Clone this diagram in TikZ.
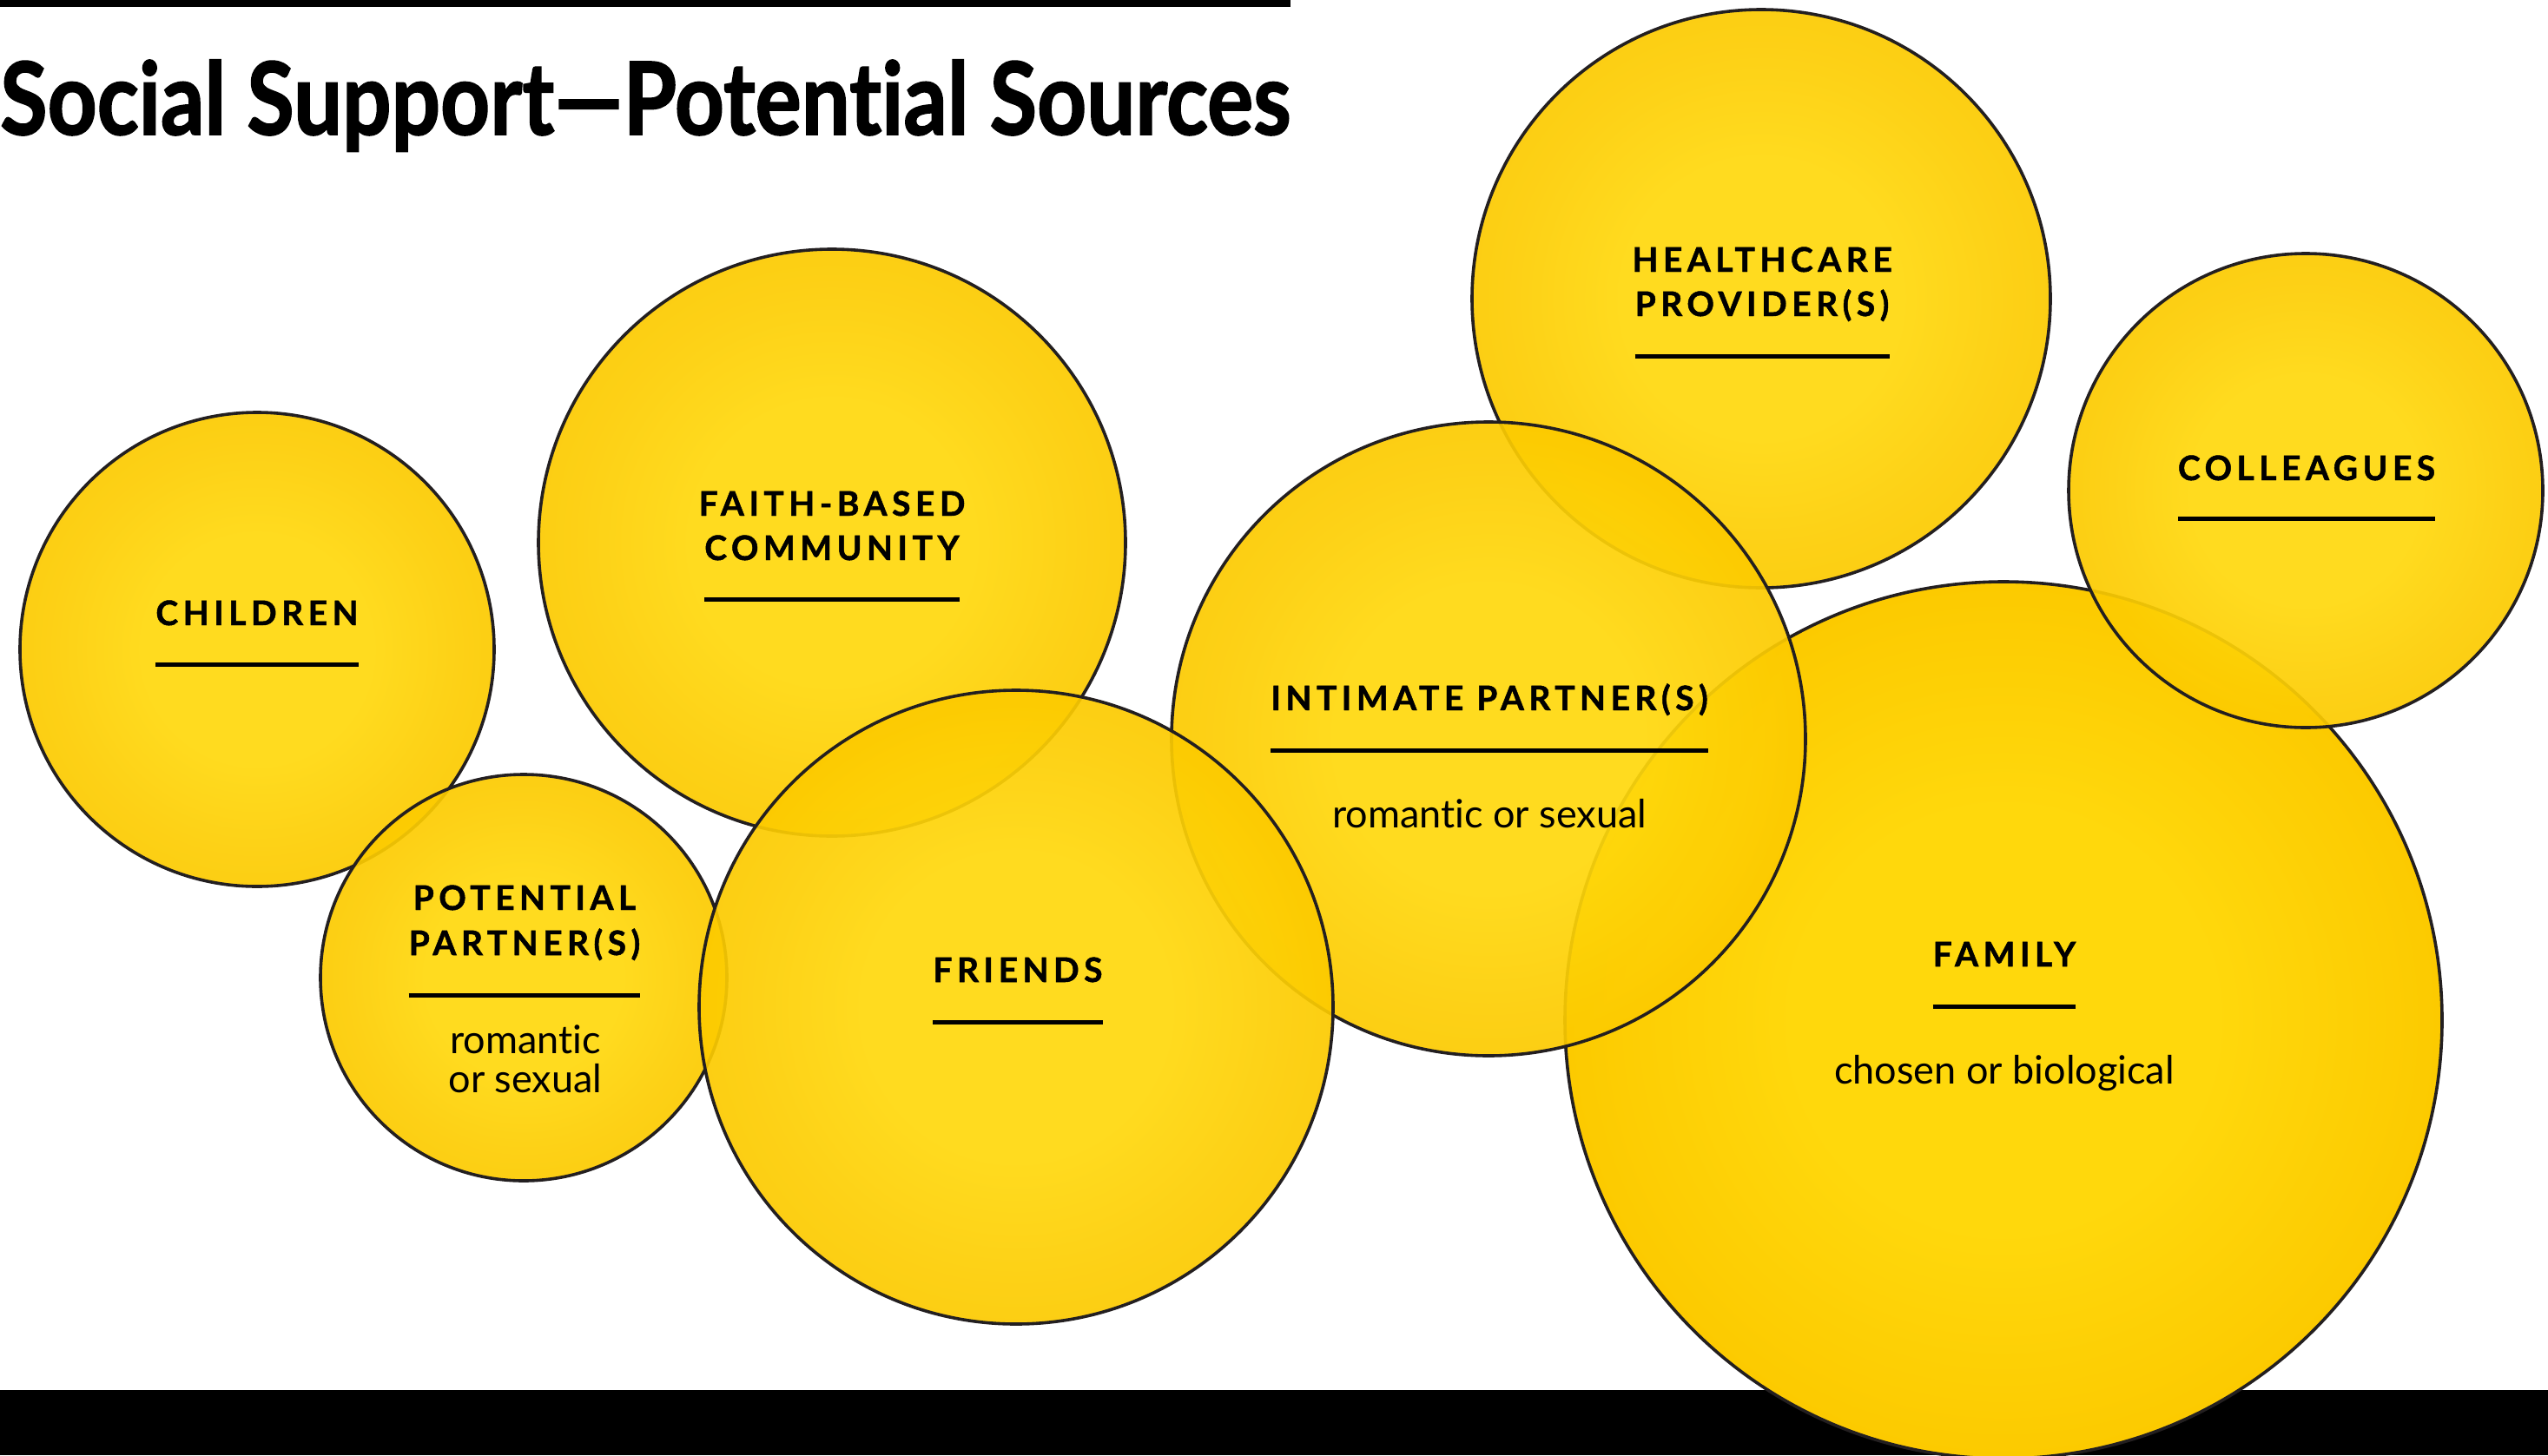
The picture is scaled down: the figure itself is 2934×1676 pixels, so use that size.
\documentclass[tikz,border=0pt]{standalone}
\usepackage{fontspec}
\usepackage{graphicx}
\usepackage{tikz}
\usepackage{xcolor}
\setmainfont{Lato}[Ligatures=NoCommon]
\newfontfamily\tagfont[LetterSpace=14,Ligatures=NoCommon,BoldFeatures={FakeBold=1.2}]{Lato}
\newfontfamily\headfont[Ligatures=NoCommon,BoldFeatures={FakeBold=1.6}]{Lato}

\definecolor{sunlight}{RGB}{255,216,12}
\definecolor{sunedge}{RGB}{252,202,0}
\definecolor{inkline}{RGB}{35,31,32}
\pgfdeclareradialshading{bubbleglow}{\pgfpoint{0bp}{0bp}}{color(0bp)=(sunlight); color(12bp)=(sunlight); color(25bp)=(sunedge); color(50bp)=(sunedge)}

\tikzset{
    bubble/.style={circle,inner sep=0pt,minimum size=#1pt,shading=bubbleglow,fill opacity=0.92,
        draw=inkline,line width=3.6pt},
    tag/.style={font=\tagfont\bfseries\fontsize{39}{46}\selectfont,inner sep=0pt,anchor=base},
    note/.style={font=\fontsize{45}{46}\selectfont,inner sep=0pt,anchor=base},
    bar/.style={line width=5pt}
}

\begin{document}
\begin{tikzpicture}[x=1pt,y=-1pt]
    \useasboundingbox (0,0) rectangle (2934,1676);
    \fill[white] (0,0) rectangle (2934,1676);
    \fill[black] (0,0) rectangle (1486,8);
    \fill[black] (0,1601) rectangle (2934,1676);
    \node[anchor=base west,inner sep=0pt,font=\headfont\bfseries\fontsize{116}{120}\selectfont] (title) at (0,155)
        {\resizebox{1486pt}{\height}{Social Support—Potential Sources}};

    \node[bubble=546] (kids) at (296,748) {};
    \node[bubble=676] (faith) at (958,625) {};
    \node[bubble=468] (maybe) at (603,1126) {};
    \node[bubble=666] (care) at (2028,344) {};
    \node[bubble=1010,fill opacity=1] (family) at (2307,1175) {};
    \node[bubble=546] (work) at (2655,565) {};
    \node[bubble=730] (lover) at (1714,851) {};
    \node[bubble=730] (friends) at (1170,1160) {};

    \node[tag] (kidsTag) at (296,720) {CHILDREN};
    \node[tag] (faithTop) at (958,594) {FAITH-BASED};
    \node[tag] (faithTag) at (958,645) {COMMUNITY};
    \node[tag] (maybeTop) at (604,1048) {POTENTIAL};
    \node[tag] (maybeTag) at (604,1100) {PARTNER(S)};
    \node[tag] (friendsTag) at (1172,1131) {FRIENDS};
    \node[tag] (loverTag) at (1715,818) {INTIMATE PARTNER(S)};
    \node[tag] (careTop) at (2029,313) {HEALTHCARE};
    \node[tag] (careTag) at (2029,364) {PROVIDER(S)};
    \node[tag] (workTag) at (2656,553) {COLLEAGUES};
    \node[tag] (familyTag) at (2308,1113) {FAMILY};

    \draw[bar] ([yshift=-45pt]kidsTag.base west) -- ([yshift=-45pt]kidsTag.base east);
    \draw[bar] ([yshift=-45pt]faithTag.base west) -- ([yshift=-45pt]faithTag.base east);
    \draw[bar] ([yshift=-46pt]maybeTag.base west) -- ([yshift=-46pt]maybeTag.base east);
    \draw[bar] ([yshift=-46pt]friendsTag.base west) -- ([yshift=-46pt]friendsTag.base east);
    \draw[bar] ([yshift=-46pt]loverTag.base west) -- ([yshift=-46pt]loverTag.base east);
    \draw[bar] ([yshift=-46pt]careTag.base west) -- ([yshift=-46pt]careTag.base east);
    \draw[bar] ([yshift=-44pt]workTag.base west) -- ([yshift=-44pt]workTag.base east);
    \draw[bar] ([yshift=-46pt]familyTag.base west) -- ([yshift=-46pt]familyTag.base east);

    \node[note] (maybeNote) at (605,1213) {romantic};
    \node[note] (maybeNoteB) at (605,1258) {or sexual};
    \node[note] (loverNote) at (1715,953) {romantic or sexual};
    \node[note] (familyNote) at (2308,1248) {chosen or biological};
\end{tikzpicture}
\end{document}
